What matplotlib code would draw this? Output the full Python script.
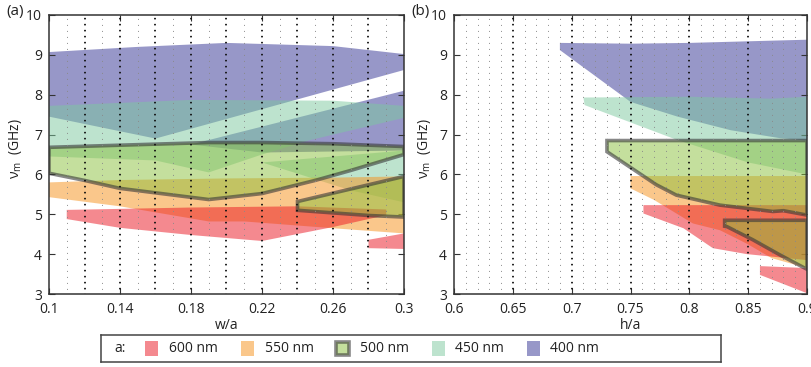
import matplotlib
matplotlib.use('Agg')
import matplotlib.pyplot as plt
from matplotlib.patches import Polygon, Rectangle
import numpy as np

# ---- data (polygon outlines, x then y) ----
# panel (a): nu_m vs w/a
a400_1_x = [0.1, 0.15, 0.2, 0.26, 0.3, 0.3, 0.16, 0.1]
a400_1_y = [9.07, 9.2, 9.3, 9.22, 9.02, 8.62, 6.9, 7.45]
a400_2_x = [0.18, 0.3, 0.3, 0.22]
a400_2_y = [6.75, 8.1, 6.6, 6.55]
a450_1_x = [0.1, 0.18, 0.26, 0.3, 0.3, 0.247, 0.22, 0.19, 0.16, 0.1]
a450_1_y = [7.72, 7.87, 7.85, 7.72, 7.42, 6.86, 6.5, 6.05, 6.35, 6.45]
a450_2_x = [0.22, 0.3, 0.3, 0.27]
a450_2_y = [6.3, 6.6, 5.3, 5.6]
a550_x = [0.1, 0.14, 0.2, 0.26, 0.3, 0.3, 0.26, 0.21, 0.19, 0.14, 0.1]
a550_y = [5.8, 5.86, 5.9, 5.92, 5.95, 4.52, 4.65, 4.82, 4.82, 5.2, 5.43]
a600_1_x = [0.11, 0.18, 0.24, 0.29, 0.29, 0.26, 0.22, 0.18, 0.14, 0.11]
a600_1_y = [5.11, 5.17, 5.2, 5.12, 4.98, 4.68, 4.33, 4.48, 4.66, 4.88]
a600_2_x = [0.28, 0.3, 0.3, 0.28]
a600_2_y = [4.36, 4.52, 4.13, 4.15]
a500_1_x = [0.1, 0.19, 0.22, 0.26, 0.3, 0.3, 0.27, 0.25, 0.22, 0.19, 0.14, 0.12, 0.1]
a500_1_y = [6.68, 6.8, 6.8, 6.77, 6.7, 6.5, 6.1, 5.85, 5.52, 5.37, 5.65, 5.85, 6.03]
a500_2_x = [0.24, 0.3, 0.3, 0.28, 0.24]
a500_2_y = [5.32, 5.95, 4.93, 4.97, 5.1]

# panel (b): nu_m vs h/a
b400_x = [0.69, 0.75, 0.8, 0.9, 0.9, 0.877, 0.835, 0.79, 0.75, 0.69]
b400_y = [9.3, 9.28, 9.3, 9.38, 6.85, 6.91, 7.11, 7.45, 7.82, 9.12]
b450_x = [0.71, 0.8, 0.87, 0.9, 0.9, 0.85, 0.79, 0.711]
b450_y = [7.93, 7.95, 7.9, 7.95, 6.0, 6.3, 6.86, 7.74]
b550_x = [0.75, 0.9, 0.9, 0.87, 0.849, 0.826, 0.803, 0.77, 0.75]
b550_y = [5.96, 5.96, 3.65, 3.9, 4.26, 4.6, 4.77, 5.36, 5.65]
b600_1_x = [0.761, 0.9, 0.9, 0.849, 0.82, 0.795, 0.761]
b600_1_y = [5.23, 5.23, 3.85, 4.0, 4.15, 4.65, 5.02]
b600_2_x = [0.86, 0.9, 0.9, 0.86]
b600_2_y = [3.7, 3.65, 3.02, 3.48]
b500_1_x = [0.73, 0.9, 0.9, 0.88, 0.871, 0.826, 0.789, 0.772, 0.73]
b500_1_y = [6.85, 6.85, 4.98, 5.09, 5.07, 5.23, 5.48, 5.74, 6.57]
b500_2_x = [0.83, 0.9, 0.9, 0.877, 0.854, 0.832, 0.83]
b500_2_y = [4.85, 4.85, 3.62, 3.98, 4.36, 4.69, 4.7]

labels = ['600 nm', '550 nm', '500 nm', '450 nm', '400 nm']
colors = {'600': '#EB1521', '550': '#F79119', '500': '#8BC13D',
          '450': '#7DC99F', '400': '#313193'}
alpha = 0.5
edge = (0.22, 0.22, 0.22, 0.6)

plt.rcParams['font.family'] = ['Open Sans', 'DejaVu Sans']
plt.rcParams['mathtext.fontset'] = 'custom'
plt.rcParams['mathtext.rm'] = 'Open Sans'
plt.rcParams['lines.scale_dashes'] = False
txt = '#222222'

fig = plt.figure(figsize=(8.11, 3.67), dpi=100)
axa = fig.add_axes([49/811, 1-294/367, 355/811, 279/367])
axb = fig.add_axes([454/811, 1-294/367, 353/811, 279/367])


def band(ax, xs, ys, key, z, outline=False):
    fc = matplotlib.colors.to_rgba(colors[key], alpha)
    p = Polygon(np.column_stack([xs, ys]), closed=True, facecolor=fc,
                edgecolor=edge if outline else 'none',
                linewidth=2.6 if outline else 0, joinstyle='miter', zorder=z)
    ax.add_patch(p)


# draw order: 400, 450, 550, 600, 500 (500 on top, outlined)
band(axa, a400_1_x, a400_1_y, '400', 1)
band(axa, a400_2_x, a400_2_y, '400', 1)
band(axa, a450_1_x, a450_1_y, '450', 2)
band(axa, a450_2_x, a450_2_y, '450', 2)
band(axa, a550_x, a550_y, '550', 3)
band(axa, a600_1_x, a600_1_y, '600', 4)
band(axa, a600_2_x, a600_2_y, '600', 4)
band(axa, a500_1_x, a500_1_y, '500', 5, True)
band(axa, a500_2_x, a500_2_y, '500', 5, True)

band(axb, b400_x, b400_y, '400', 1)
band(axb, b450_x, b450_y, '450', 2)
band(axb, b550_x, b550_y, '550', 3)
band(axb, b600_1_x, b600_1_y, '600', 4)
band(axb, b600_2_x, b600_2_y, '600', 4)
band(axb, b500_1_x, b500_1_y, '500', 5, True)
band(axb, b500_2_x, b500_2_y, '500', 5, True)

# dotted vertical grid
def dotgrid(ax, xs_dark, xs_light):
    for x in xs_light:
        ax.axvline(x, color='#8a8a8a', lw=0.7, ls=(1.0, (0.7, 3.62)), zorder=6)
    for x in xs_dark:
        ax.axvline(x, color='#111111', lw=1.3, ls=(1.0, (1.1, 3.22)), zorder=6)

dotgrid(axa, np.arange(0.12, 0.29, 0.02), np.arange(0.11, 0.30, 0.02))
dotgrid(axb, np.arange(0.65, 0.89, 0.05),
        [v for v in np.arange(0.61, 0.90, 0.01) if abs(round(v*100) % 5) != 0])

for ax, lo, hi, ticks, lab in [(axa, 0.1, 0.3, [0.1, 0.14, 0.18, 0.22, 0.26, 0.3], 'w/a'),
                               (axb, 0.6, 0.9, [0.6, 0.65, 0.7, 0.75, 0.8, 0.85, 0.9], 'h/a')]:
    ax.set_xlim(lo, hi)
    ax.set_ylim(3, 10)
    ax.set_xticks(ticks)
    ax.set_xticklabels([('%g' % t) for t in ticks])
    ax.set_yticks(range(3, 11))
    ax.tick_params(direction='in', top=True, right=True, length=4, width=0.8,
                   colors='#333333', labelcolor=txt, labelsize=10)
    ax.tick_params(axis='x', pad=5.5)
    ax.tick_params(axis='y', pad=5)
    for s in ax.spines.values():
        s.set_color('#333333')
        s.set_linewidth(1.1)
        s.set_zorder(7)
    ax.set_xlabel(lab, fontsize=10, color=txt, labelpad=0)
    ax.set_ylabel('ν$_\\mathrm{m}$  (GHz)', fontsize=10, color=txt)

axa.yaxis.set_label_coords(-0.07, 0.52)
axb.yaxis.set_label_coords(-0.06, 0.52)
axa.xaxis.set_label_coords(0.5, -0.085)
axb.xaxis.set_label_coords(0.5, -0.085)

fig.text(15/811, 1-11/367, '(a)', fontsize=11, color=txt, ha='center', va='center')
fig.text(421/811, 1-11/367, '(b)', fontsize=11, color=txt, ha='center', va='center')

# legend box
lg = fig.add_axes([101/811, 1-362/367, 620/811, 27/367])
lg.set_xlim(0, 620)
lg.set_ylim(27, 0)
lg.set_xticks([])
lg.set_yticks([])
for s in lg.spines.values():
    s.set_color('#444444')
    s.set_linewidth(1.1)
lg.text(13, 14, 'a:', fontsize=10, color=txt, va='center')
sw_x = [44, 140, 234, 331, 426]
tx_x = [68, 164, 259, 354, 449]
keys = ['600', '550', '500', '450', '400']
for k, sx, tx, lab in zip(keys, sw_x, tx_x, labels):
    fc = matplotlib.colors.to_rgba(colors[k], alpha)
    if k == '500':
        lg.add_patch(Rectangle((sx+1.3, 7.3), 12.4, 12.4, facecolor=fc,
                               edgecolor=edge, linewidth=2.6))
    else:
        lg.add_patch(Rectangle((sx, 6), 12.5, 15, facecolor=fc, edgecolor='none'))
    lg.text(tx, 14, lab, fontsize=10, color=txt, va='center')

fig.savefig('out.png', dpi=100)
